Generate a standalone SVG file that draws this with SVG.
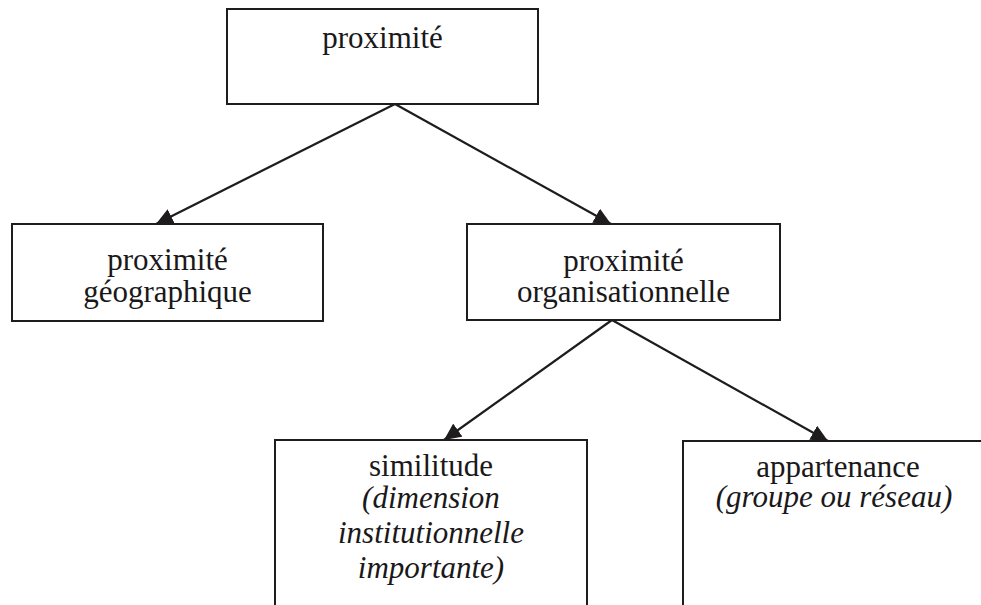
<svg xmlns="http://www.w3.org/2000/svg" width="981" height="605" viewBox="0 0 981 605">
  <defs>
    <marker id="arrow" markerUnits="userSpaceOnUse" markerWidth="17" markerHeight="16" refX="17" refY="8" orient="auto">
      <path d="M0,0 L17,8 L0,16 z" fill="#1e1c1d"/>
    </marker>
    <style>
      .box { fill: #ffffff; stroke: #1e1c1d; stroke-width: 2; }
      .open { fill: none; stroke: #1e1c1d; stroke-width: 2; }
      .link { fill: none; stroke: #1e1c1d; stroke-width: 2.2; marker-end: url(#arrow); }
      text { font-family: "Liberation Serif", "Times New Roman", serif; font-size: 31px; fill: #1a1819; text-anchor: middle; }
      .it { font-style: italic; }
    </style>
  </defs>

  <rect width="981" height="605" fill="#ffffff"/>

  <!-- hierarchy links -->
  <g id="connectors">
    <line class="link" x1="395" y1="104" x2="156" y2="224"/>
    <line class="link" x1="395" y1="104" x2="611" y2="224"/>
    <line class="link" x1="612" y1="320" x2="444" y2="440"/>
    <line class="link" x1="612" y1="320" x2="828" y2="441"/>
  </g>

  <g id="proximite">
    <rect class="box" x="227" y="9" width="311" height="95"/>
    <text x="382.5" y="48">proximité</text>
  </g>

  <g id="proximite-geographique">
    <rect class="box" x="12" y="224" width="311" height="97"/>
    <text x="167.5" y="270">proximité</text>
    <text x="167.5" y="302">géographique</text>
  </g>

  <g id="proximite-organisationnelle">
    <rect class="box" x="467" y="224" width="313" height="96"/>
    <text x="623.5" y="271">proximité</text>
    <text x="623.5" y="302">organisationnelle</text>
  </g>

  <!-- lower boxes run off the bottom of the sheet -->
  <g id="similitude">
    <path class="open" d="M275,606 V440 H587 V606"/>
    <text x="431" y="476">similitude</text>
    <text class="it" x="431" y="508">(dimension</text>
    <text class="it" x="431" y="543">institutionnelle</text>
    <text class="it" x="431" y="578">importante)</text>
  </g>

  <g id="appartenance">
    <path class="open" d="M683,606 V441 H982"/>
    <text x="838" y="477">appartenance</text>
    <text class="it" x="834" y="507">(groupe ou réseau)</text>
  </g>
</svg>
